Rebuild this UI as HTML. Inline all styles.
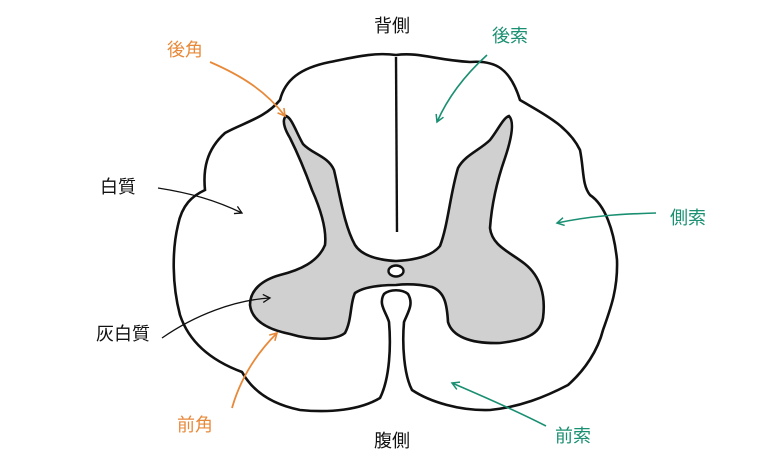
<!DOCTYPE html>
<html><head><meta charset="utf-8"><style>
html,body{margin:0;padding:0;background:#fff}
svg{display:block}
text{font-family:"Liberation Sans","Noto Sans CJK JP",sans-serif;font-size:18px}
</style></head><body>
<svg width="768" height="474" viewBox="0 0 768 474" xmlns="http://www.w3.org/2000/svg">
<defs>
<marker id="ak" markerWidth="10" markerHeight="10" refX="8" refY="5" orient="auto" markerUnits="userSpaceOnUse"><path d="M1,1 L8,5 L1,9" fill="none" stroke="#111" stroke-width="1.3"/></marker>
<marker id="ao" markerWidth="10" markerHeight="10" refX="8" refY="5" orient="auto" markerUnits="userSpaceOnUse"><path d="M1,1 L8,5 L1,9" fill="none" stroke="#e8893a" stroke-width="1.6"/></marker>
<marker id="at" markerWidth="10" markerHeight="10" refX="8" refY="5" orient="auto" markerUnits="userSpaceOnUse"><path d="M1,1 L8,5 L1,9" fill="none" stroke="#1a8f72" stroke-width="1.5"/></marker>
</defs>
<path d="M396,55 C420,52 435,60 470,62 C495,60 510,68 520,100 C540,112 568,125 580,150 C584,170 582,185 590,195 C605,205 614,230 617,260 C618,290 610,310 603,330 C598,350 585,370 568,385 C545,397 520,407 490,410 C460,411 430,402 412,390 C404,375 402,345 404,322 C408,312 414,304 408,294 C402,289 390,289 384,294 C378,304 386,312 389,322 C391,345 390,378 380,398 C360,410 330,413 300,410 C270,404 252,390 242,372 C215,362 190,345 180,315 C172,285 172,250 178,225 C182,205 192,196 205,190 C203,170 206,150 225,133 C245,122 265,118 280,100 C285,80 300,68 330,62 C355,57 375,52 396,55 Z" fill="#fff" stroke="#111" stroke-width="2.6"/>
<path d="M396,57 L397,232" stroke="#111" stroke-width="2.4" fill="none"/>
<path d="M286,116 C292,118 296,132 303,144 C312,154 328,156 334,170 C340,195 344,225 355,245 C362,256 378,260 396,261 C416,260 432,256 440,246 C448,225 450,195 458,168 C465,155 480,150 490,140 C498,130 503,118 509,116 C515,122 511,140 505,158 C498,178 492,200 490,228 C492,246 510,252 525,264 C540,276 546,295 543,318 C540,335 525,340 500,343 C470,344 452,336 448,322 C447,305 445,292 432,287 C418,284 405,284 396,285 C385,285 365,286 355,293 C350,303 352,320 345,333 C335,341 310,340 290,334 C270,330 252,322 250,305 C250,290 262,280 280,275 C300,270 318,262 325,245 C327,228 320,208 312,190 C304,168 296,150 290,138 C284,128 282,120 286,116 Z" fill="#d0d0d0" stroke="#111" stroke-width="2.6"/>
<ellipse cx="396" cy="271" rx="7.5" ry="5.5" fill="#fff" stroke="#111" stroke-width="2.4"/>
<path d="M210,62 C240,75 265,90 285,116" fill="none" stroke="#e8893a" stroke-width="1.8" marker-end="url(#ao)"/>
<path d="M487,55 C465,75 448,97 437,122" fill="none" stroke="#1a8f72" stroke-width="1.6" marker-end="url(#at)"/>
<path d="M158,188 C190,193 215,200 242,213" fill="none" stroke="#111" stroke-width="1.3" marker-end="url(#ak)"/>
<path d="M656,213 C620,214 590,216 557,223" fill="none" stroke="#1a8f72" stroke-width="1.6" marker-end="url(#at)"/>
<path d="M162,338 C195,315 235,300 270,298" fill="none" stroke="#111" stroke-width="1.3" marker-end="url(#ak)"/>
<path d="M232,408 C240,380 255,355 277,333" fill="none" stroke="#e8893a" stroke-width="1.8" marker-end="url(#ao)"/>
<path d="M546,426 C515,410 480,395 452,383" fill="none" stroke="#1a8f72" stroke-width="1.6" marker-end="url(#at)"/>
<text x="392" y="32" text-anchor="middle" fill="#111">背側</text>
<text x="185" y="56" text-anchor="middle" fill="#e8893a">後角</text>
<text x="510" y="42" text-anchor="middle" fill="#1a8f72">後索</text>
<text x="118" y="193" text-anchor="middle" fill="#111">白質</text>
<text x="688" y="224" text-anchor="middle" fill="#1a8f72">側索</text>
<text x="123" y="340" text-anchor="middle" fill="#111">灰白質</text>
<text x="195" y="431" text-anchor="middle" fill="#e8893a">前角</text>
<text x="392" y="447" text-anchor="middle" fill="#111">腹側</text>
<text x="573" y="442" text-anchor="middle" fill="#1a8f72">前索</text>
</svg>
</body></html>
